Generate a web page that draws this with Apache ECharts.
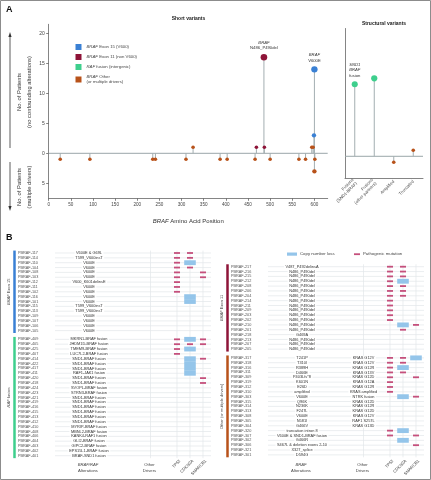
<!DOCTYPE html>
<html>
<head>
<meta charset="utf-8">
<script src="https://cdn.jsdelivr.net/npm/echarts@6.0.0/dist/echarts.min.js"></script>
<style>
html, body { margin: 0; padding: 0; background: #fff; }
#main { width: 431px; height: 480px; }
</style>
</head>
<body>
<div id="main"></div>
<script>
var FONT = 'Liberation Sans, Arial, sans-serif';
var C_V600 = '#3a80d4', C_EX11 = '#8e1438', C_FUS = '#3ecf8d', C_OTH = '#b8521a';
var C_LOSS = '#94c5ea', C_MUT = '#c5507c', C_STEM = '#a3aeb1', C_GRID = '#e3e7e9';

// ---- panel A: short variants, [amino acid position, patients] (negative = multiple drivers)
var v600Points = [[600, 14], [599, 3]];
var exon11Points = [[486, 16], [469, 1], [487, 1]];
var fusionPoints = [];
var otherPoints = [[26, -1], [93, -1], [235, -1], [241, -1], [310, -1], [326, 1], [387, -1], [403, -1],
  [466, -1], [500, -1], [565, -1], [580, -1], [594, 1], [597, 1], [600, -3], [601, -1]];
var xTicks = [0, 50, 100, 150, 200, 250, 300, 350, 400, 450, 500, 550, 600];
var yTicks = [-5, 0, 5, 10, 15, 20];

// ---- panel A: structural variants
var svCategories = ['Fusions\n(SND1-BRAF)', 'Fusions\n(other partners)', 'Amplified', 'Truncated'];
var svCounts = [12, 13, -1, 1];
var svGroup = ['fusion', 'fusion', 'other', 'other'];

// ---- panel B: per patient rows; genes = TP53 / CDKN2A / SMARCB1 (M mutation, L copy number loss)
var exon15Ids = ['PBRAF-117', 'PBRAF-114', 'PBRAF-110', 'PBRAF-104', 'PBRAF-108', 'PBRAF-103', 'PBRAF-112', 'PBRAF-111',
  'PBRAF-102', 'PBRAF-116', 'PBRAF-101', 'PBRAF-115', 'PBRAF-113', 'PBRAF-109', 'PBRAF-107', 'PBRAF-106', 'PBRAF-105'];
var exon15Alts = ['V600E & G69L', 'T599_V600insT', 'V600E', 'V600E', 'V600E', 'V600E', 'V600_K601delinsE', 'V600E',
  'V600E', 'V600E', 'V600E', 'T599_V600insT', 'T599_V600insT', 'V600E', 'V600E', 'V600E', 'V600E'];
var exon15Genes = ['MM-', 'MM-', 'ML-', 'MM-', 'M-M', 'M-M', 'M--', 'M--', 'M--', '-L-', '-L-',
  '---', '---', '---', '---', '---', '---'];

var fusionIds = ['PBRAF-409', 'PBRAF-405', 'PBRAF-425', 'PBRAF-407', 'PBRAF-414', 'PBRAF-422', 'PBRAF-417', 'PBRAF-411',
  'PBRAF-420', 'PBRAF-418', 'PBRAF-424', 'PBRAF-423', 'PBRAF-421', 'PBRAF-419', 'PBRAF-416', 'PBRAF-415', 'PBRAF-413',
  'PBRAF-412', 'PBRAF-410', 'PBRAF-408', 'PBRAF-406', 'PBRAF-404', 'PBRAF-403', 'PBRAF-402', 'PBRAF-401'];
var fusionAlts = ['MKRN1-BRAF fusion', 'JHDM1D-BRAF fusion', 'TMEM9-BRAF fusion', 'LUC7L2-BRAF fusion', 'SND1-BRAF fusion',
  'SND1-BRAF fusion', 'SND1-BRAF fusion', 'RAF1-JAK1 fusion', 'SND1-BRAF fusion', 'SND1-BRAF fusion', 'SVOPL-BRAF fusion',
  'STRN3-BRAF fusion', 'SND1-BRAF fusion', 'SND1-BRAF fusion', 'SND1-BRAF fusion', 'SND1-BRAF fusion', 'SND1-BRAF fusion',
  'SND1-BRAF fusion', 'MYRIP-BRAF fusion', 'MBNL2-BRAF fusion', 'KANK4-RAF1 fusion', 'GLI2-BRAF fusion',
  'GIPC2-BRAF fusion', 'EPS15L1-BRAF fusion', 'BRAF-SND1 fusion'];
var fusionGenes = ['MLM', 'MMM', 'ML-', 'M--', '-LM', '-L-', '-L-', '-L-', '--M', '--M', '---', '---', '---',
  '---', '---', '---', '---', '---', '---', '---', '---', '---', '---', '---', '---'];

var exon11Ids = ['PBRAF-217', 'PBRAF-216', 'PBRAF-215', 'PBRAF-212', 'PBRAF-208', 'PBRAF-206', 'PBRAF-204', 'PBRAF-214',
  'PBRAF-211', 'PBRAF-209', 'PBRAF-203', 'PBRAF-202', 'PBRAF-210', 'PBRAF-201', 'PBRAF-218', 'PBRAF-213', 'PBRAF-207', 'PBRAF-205'];
var exon11Alts = ['V487_P492delinsA', 'N486_P490del', 'N486_P490del', 'N486_P490del', 'N486_P490del', 'N486_P490del',
  'N486_P490del', 'N486_P490del', 'N486_P490del', 'N486_P490del', 'N486_P490del', 'N486_P490del', 'N486_P490del',
  'N486_P490del', 'G469A', 'N486_P490del', 'N486_P490del', 'N486_P490del'];
var exon11Genes = ['MM-', 'MM-', 'MM-', 'ML-', 'MM-', 'MM-', 'MM-', 'M--', 'M--', 'M--', 'M--', 'M--', '-LM', '-M-',
  '---', '---', '---', '---'];

var otherIds = ['PBRAF-317', 'PBRAF-318', 'PBRAF-316', 'PBRAF-311', 'PBRAF-309', 'PBRAF-319', 'PBRAF-312', 'PBRAF-310',
  'PBRAF-303', 'PBRAF-315', 'PBRAF-314', 'PBRAF-313', 'PBRAF-308', 'PBRAF-305', 'PBRAF-304', 'PBRAF-320', 'PBRAF-307',
  'PBRAF-302', 'PBRAF-306', 'PBRAF-321', 'PBRAF-301'];
var otherAlts = ['T241P', 'T310I', 'R389H', 'D466E', 'P403Lfs*8', 'K601N', 'E26D', 'amplified', 'V600E', 'Q96K', 'N236K',
  'F247L', 'V600E', 'N581I', 'G466V', 'truncation intron 8', 'V600E & SND1-BRAF fusion', 'G466R',
  'S467L & deletion exons 2-10', 'X327_splice', 'D594G'];
var otherDrivers = ['KRAS G12V', 'KRAS G12V', 'KRAS G12R', 'KRAS G13V', 'KRAS G12D', 'KRAS G12A', 'KRAS G12R',
  'KRAS amplified', 'NTRK fusion', 'KRAS G12D', 'KRAS G12R', 'KRAS G12D', 'KRAS G12V', 'RAF1 S257L', 'KRAS G13D',
  '', '', '', '', '', ''];
var otherGenes = ['MML', 'MM-', 'ML-', 'MM-', 'M-M', 'M--', 'M--', 'M--', '-LM', '---', '---', '---', '---', '---', '---',
  'ML-', 'M-M', '-L-', '--M', '---', '---'];

// layout of the table columns (x inside each half of panel B)
var COL = { id: 18, alt: 89, other: 150.5, genes: [177, 190, 203], lineStart: 55, lineEnd: 211, bar: 14.5, label: 8.5 };
var ROW_GAP = 0.8;

function buildRows(groups) {
  var rows = [], spans = [], pos = 0;
  groups.forEach(function (g, gi) {
    if (gi > 0) pos += ROW_GAP;
    var start = pos;
    g.ids.forEach(function (id, i) {
      rows.push({ id: id, alt: g.alts[i], other: g.others ? g.others[i] : '', genes: g.genes[i], pos: pos });
      pos += 1;
    });
    spans.push({ name: g.name, color: g.color, start: start, end: pos - 1 });
  });
  return { rows: rows, spans: spans, max: pos - 1 };
}

var left = buildRows([
  { name: '{i|BRAF} Exon 15', color: C_V600, ids: exon15Ids, alts: exon15Alts, genes: exon15Genes },
  { name: '{i|RAF} fusion', color: C_FUS, ids: fusionIds, alts: fusionAlts, genes: fusionGenes }
]);
var right = buildRows([
  { name: '{i|BRAF} Exon 11', color: C_EX11, ids: exon11Ids, alts: exon11Alts, genes: exon11Genes },
  { name: 'Other (or multiple drivers)', color: C_OTH, ids: otherIds, alts: otherAlts, others: otherDrivers, genes: otherGenes }
]);

// italic rich style for gene names in zrender texts
function italic(size, colour) {
  return { i: { fontStyle: 'italic', fontSize: size, fontFamily: FONT, fill: colour, color: colour } };
}

function stemItem(params, api) {
  var top = api.coord([api.value(0), api.value(1)]);
  var base = api.coord([api.value(0), 0]);
  return { type: 'line', shape: { x1: base[0], y1: base[1], x2: top[0], y2: top[1] },
    style: { stroke: C_STEM, lineWidth: 1 } };
}
function baselineItem(params, api) {
  var cs = params.coordSys;
  var y = api.coord([api.value(0), api.value(1)])[1];
  return { type: 'line', shape: { x1: cs.x, y1: y, x2: cs.x + cs.width, y2: y },
    style: { stroke: '#9aa6a9', lineWidth: 1 } };
}
function dotSize(v) { return 2.6 + Math.sqrt(Math.abs(v[1])); }

function rowItem(table) {
  return function (params, api) {
    var r = table.rows[params.dataIndex];
    var y = api.coord([0, r.pos])[1];
    function x(v) { return api.coord([v, r.pos])[0]; }
    var kids = [
      { type: 'line', shape: { x1: x(COL.lineStart), y1: y, x2: x(COL.lineEnd), y2: y }, style: { stroke: C_GRID, lineWidth: 0.7 } },
      { type: 'text', x: x(COL.id), y: y, style: { text: r.id, fill: '#555', fontSize: 3.8, fontFamily: FONT, verticalAlign: 'middle' } },
      { type: 'text', x: x(COL.alt), y: y, style: { text: r.alt, fill: '#333', fontSize: 3.9, fontFamily: FONT,
        align: 'center', verticalAlign: 'middle', backgroundColor: '#fff', padding: [0, 1.5] } }
    ];
    if (r.other) {
      kids.push({ type: 'text', x: x(COL.other), y: y, style: { text: r.other, fill: '#333', fontSize: 3.9, fontFamily: FONT,
        align: 'center', verticalAlign: 'middle', backgroundColor: '#fff', padding: [0, 1.5] } });
    }
    return { type: 'group', children: kids };
  };
}
function vlineItem(table) {
  return function (params, api) {
    var a = api.coord([api.value(0), -0.5]);
    var b = api.coord([api.value(0), table.max + 0.5]);
    return { type: 'line', shape: { x1: a[0], y1: a[1], x2: b[0], y2: b[1] }, style: { stroke: C_GRID, lineWidth: 0.7 } };
  };
}
function spanItem(table) {
  return function (params, api) {
    var s = table.spans[params.dataIndex];
    var a = api.coord([COL.bar, s.start - 0.5]);
    var b = api.coord([COL.bar, s.end + 0.5]);
    var lx = api.coord([COL.label, 0])[0];
    return { type: 'group', children: [
      { type: 'rect', shape: { x: a[0] - 1.25, y: a[1], width: 2.5, height: b[1] - a[1] }, style: { fill: s.color } },
      { type: 'text', x: lx, y: (a[1] + b[1]) / 2, rotation: Math.PI / 2,
        style: { text: s.name, rich: italic(4, '#444'), fill: '#444', fontSize: 4, fontFamily: FONT, align: 'center', verticalAlign: 'middle' } }
    ] };
  };
}
function lossItem(params, api) {
  var c = api.coord([api.value(0), api.value(1)]);
  var h = api.size([0, 1])[1];
  return { type: 'rect', shape: { x: c[0] - 5.8, y: c[1] - h / 2, width: 11.6, height: h }, style: { fill: C_LOSS } };
}
function mutItem(params, api) {
  var c = api.coord([api.value(0), api.value(1)]);
  return { type: 'rect', shape: { x: c[0] - 3, y: c[1] - 0.9, width: 6, height: 1.8 }, style: { fill: C_MUT } };
}
function marks(table, code) {
  var out = [];
  table.rows.forEach(function (r) {
    for (var g = 0; g < 3; g++) if (r.genes.charAt(g) === code) out.push([COL.genes[g], r.pos]);
  });
  return out;
}

function tableSeries(table, axisIndex) {
  return [
    { type: 'custom', xAxisIndex: axisIndex, yAxisIndex: axisIndex, renderItem: vlineItem(table), z: 1,
      data: [COL.other].concat(COL.genes).map(function (v) { return [v, 0]; }) },
    { type: 'custom', xAxisIndex: axisIndex, yAxisIndex: axisIndex, renderItem: rowItem(table), z: 2,
      data: table.rows.map(function (r) { return [0, r.pos]; }) },
    { type: 'custom', xAxisIndex: axisIndex, yAxisIndex: axisIndex, renderItem: spanItem(table), z: 2,
      data: table.spans.map(function (s) { return [COL.bar, s.start]; }) },
    { type: 'custom', name: 'Copy number loss', xAxisIndex: axisIndex, yAxisIndex: axisIndex, renderItem: lossItem, z: 3,
      data: marks(table, 'L') },
    { type: 'custom', name: 'Pathogenic mutation', xAxisIndex: axisIndex, yAxisIndex: axisIndex, renderItem: mutItem, z: 4,
      data: marks(table, 'M') }
  ];
}

var shortAll = v600Points.concat(exon11Points, fusionPoints, otherPoints);

function labelled(pt, text) {
  return { value: pt, label: { show: true, position: 'top', distance: 3, formatter: text, align: 'center',
    fontSize: 4.2, fontFamily: FONT, color: '#333', lineHeight: 5.5,
    rich: { i: { fontStyle: 'italic', fontSize: 4.2, fontFamily: FONT, color: '#333', lineHeight: 5.5 } } } };
}

var legendNames = {
  'BRAF Exon 15 (V600)': '{i|BRAF} Exon 15 (V600)',
  'BRAF Exon 11 (non V600)': '{i|BRAF} Exon 11 (non V600)',
  'RAF fusion (intergenic)': '{i|RAF} fusion (intergenic)',
  'BRAF Other (or multiple drivers)': '{i|BRAF} Other\n(or multiple drivers)'
};

var svFusion = [], svOther = [];
svCounts.forEach(function (v, i) {
  (svGroup[i] === 'fusion' ? svFusion : svOther).push([i, v]);
});
svFusion[0] = labelled(svFusion[0], '{i|SND1}\n{i|BRAF}\nfusion');

var geneLabels = ['TP53', 'CDKN2A', 'SMARCB1'];
var graphics = [
  { type: 'rect', shape: { x: 0.5, y: 0.5, width: 430, height: 479 }, style: { fill: 'none', stroke: '#8c8c8c', lineWidth: 1 } },
  { type: 'text', x: 6, y: 5, style: { text: 'A', font: 'bold 9px ' + FONT, fill: '#111' } },
  { type: 'text', x: 6, y: 233, style: { text: 'B', font: 'bold 9px ' + FONT, fill: '#111' } },
  { type: 'text', x: 188.5, y: 19, style: { text: 'Short variants', font: 'bold 5px ' + FONT, fill: '#222', align: 'center', verticalAlign: 'middle' } },
  { type: 'text', x: 384, y: 24, style: { text: 'Structural variants', font: 'bold 5px ' + FONT, fill: '#222', align: 'center', verticalAlign: 'middle' } },
  { type: 'text', x: 24.3, y: 92, rotation: Math.PI / 2, style: { text: 'No. of Patients\n(no confounding alterations)',
    font: '5.8px ' + FONT, lineHeight: 10, fill: '#333', align: 'center', verticalAlign: 'middle' } },
  { type: 'text', x: 24.3, y: 187, rotation: Math.PI / 2, style: { text: 'No. of Patients\n(multiple drivers)',
    font: '5.8px ' + FONT, lineHeight: 10, fill: '#333', align: 'center', verticalAlign: 'middle' } },
  { type: 'line', shape: { x1: 10, y1: 148, x2: 10, y2: 36 }, style: { stroke: '#333', lineWidth: 0.8 } },
  { type: 'polygon', shape: { points: [[10, 32], [8.4, 37], [11.6, 37]] }, style: { fill: '#333' } },
  { type: 'line', shape: { x1: 10, y1: 162, x2: 10, y2: 207 }, style: { stroke: '#333', lineWidth: 0.8 } },
  { type: 'polygon', shape: { points: [[10, 211], [8.4, 206], [11.6, 206]] }, style: { fill: '#333' } },
  // legend of panel B
  { type: 'rect', shape: { x: 287, y: 252.5, width: 10, height: 3.2 }, style: { fill: C_LOSS } },
  { type: 'text', x: 300, y: 254.2, style: { text: 'Copy number loss', font: '4.3px ' + FONT, fill: '#444', verticalAlign: 'middle' } },
  { type: 'rect', shape: { x: 354, y: 253.3, width: 6, height: 1.8 }, style: { fill: C_MUT } },
  { type: 'text', x: 363, y: 254.2, style: { text: 'Pathogenic mutation', font: '4.3px ' + FONT, fill: '#444', verticalAlign: 'middle' } }
];
[[0, '{i|BRAF/RAF}\nAlterations'], [213, '{i|BRAF}\nAlterations']].forEach(function (h) {
  graphics.push({ type: 'text', x: h[0] + COL.alt - 1, y: 468, style: { text: h[1], rich: italic(4.2, '#444'),
    fontSize: 4.2, fontFamily: FONT, lineHeight: 5.6, fill: '#444', align: 'center', verticalAlign: 'middle' } });
  graphics.push({ type: 'text', x: h[0] + COL.other - 1, y: 468, style: { text: 'Other\nDrivers', fontSize: 4.2, fontFamily: FONT,
    lineHeight: 5.6, fill: '#444', align: 'center', verticalAlign: 'middle' } });
  geneLabels.forEach(function (g, i) {
    graphics.push({ type: 'text', x: h[0] + COL.genes[i] + 1.5, y: 459, rotation: Math.PI / 4,
      style: { text: g, fontSize: 4.2, fontFamily: FONT, fill: '#444', align: 'right', verticalAlign: 'top' } });
  });
});

var hidden = { show: false };
var option = {
  animation: false,
  backgroundColor: '#fff',
  textStyle: { fontFamily: FONT },
  grid: [
    { left: 48.7, top: 24.3, width: 279, height: 174, outerBoundsMode: 'none' },
    { left: 345, top: 28.5, width: 78, height: 149.5, outerBoundsMode: 'none' },
    { left: 0, top: 253 - 2.425, width: 213, height: (left.max + 1) * 4.85, outerBoundsMode: 'none' },
    { left: 213, top: 266.7 - 2.425, width: 218, height: (right.max + 1) * 4.85, outerBoundsMode: 'none' }
  ],
  xAxis: [
    { type: 'value', gridIndex: 0, min: 0, max: 630,
      name: '{i|BRAF} Amino Acid Position', nameLocation: 'middle', nameGap: 20,
      nameTextStyle: { fontSize: 6, color: '#333', fontFamily: FONT, rich: { i: { fontStyle: 'italic', fontSize: 6, fontFamily: FONT, color: '#333' } } },
      axisLine: { onZero: false, lineStyle: { color: '#666', width: 0.8 } },
      axisTick: { length: 2.5, customValues: xTicks, lineStyle: { color: '#666', width: 0.8 } },
      axisLabel: { customValues: xTicks, fontSize: 4.6, margin: 4, color: '#444' },
      splitLine: hidden },
    { type: 'category', gridIndex: 1, data: svCategories,
      axisLine: { onZero: false, lineStyle: { color: '#666', width: 0.8 } },
      axisTick: hidden,
      axisLabel: { interval: 0, rotate: 45, fontSize: 4.3, lineHeight: 5, margin: 3, color: '#444' },
      splitLine: hidden },
    { type: 'value', gridIndex: 2, min: 0, max: 213, show: false },
    { type: 'value', gridIndex: 3, min: 0, max: 218, show: false }
  ],
  yAxis: [
    { type: 'value', gridIndex: 0, min: -7.5, max: 21.5,
      axisLine: { show: true, onZero: false, lineStyle: { color: '#666', width: 0.8 } },
      axisTick: { show: true, length: 2.5, customValues: yTicks, lineStyle: { color: '#666', width: 0.8 } },
      axisLabel: { customValues: yTicks, fontSize: 5, margin: 4, color: '#444', formatter: function (v) { return Math.abs(v); } },
      splitLine: hidden },
    { type: 'value', gridIndex: 1, min: -3.62, max: 21.3,
      axisLine: { show: true, onZero: false, lineStyle: { color: '#666', width: 0.8 } },
      axisTick: hidden, axisLabel: hidden, splitLine: hidden },
    { type: 'value', gridIndex: 2, min: -0.5, max: left.max + 0.5, inverse: true, show: false },
    { type: 'value', gridIndex: 3, min: -0.5, max: right.max + 0.5, inverse: true, show: false }
  ],
  legend: {
    left: 75.5, top: 44, orient: 'vertical', padding: 0, itemWidth: 6, itemHeight: 6, itemGap: 4,
    icon: 'rect', selectedMode: false,
    data: Object.keys(legendNames),
    formatter: function (n) { return legendNames[n]; },
    textStyle: { fontSize: 4.3, fontFamily: FONT, color: '#444', lineHeight: 5.5,
      rich: { i: { fontStyle: 'italic', fontSize: 4.3, fontFamily: FONT, color: '#444', lineHeight: 5.5 } } }
  },
  series: [
    { type: 'custom', xAxisIndex: 0, yAxisIndex: 0, renderItem: baselineItem, data: [[0, 0]], z: 1, silent: true },
    { type: 'custom', xAxisIndex: 0, yAxisIndex: 0, renderItem: stemItem, data: shortAll, z: 2, silent: true },
    { type: 'scatter', name: 'BRAF Exon 15 (V600)', xAxisIndex: 0, yAxisIndex: 0, itemStyle: { color: C_V600, opacity: 1 },
      symbolSize: dotSize, z: 5,
      data: [labelled(v600Points[0], '{i|BRAF}\nV600E')].concat(v600Points.slice(1)) },
    { type: 'scatter', name: 'BRAF Exon 11 (non V600)', xAxisIndex: 0, yAxisIndex: 0, itemStyle: { color: C_EX11, opacity: 1 },
      symbolSize: dotSize, z: 5,
      data: [labelled(exon11Points[0], '{i|BRAF}\nN486_P490del')].concat(exon11Points.slice(1)) },
    { type: 'scatter', name: 'RAF fusion (intergenic)', xAxisIndex: 0, yAxisIndex: 0, itemStyle: { color: C_FUS, opacity: 1 },
      symbolSize: dotSize, z: 5, data: fusionPoints },
    { type: 'scatter', name: 'BRAF Other (or multiple drivers)', xAxisIndex: 0, yAxisIndex: 0, itemStyle: { color: C_OTH, opacity: 1 },
      symbolSize: dotSize, z: 4, data: otherPoints },

    { type: 'custom', xAxisIndex: 1, yAxisIndex: 1, renderItem: baselineItem, data: [[0, 0]], z: 1, silent: true },
    { type: 'custom', xAxisIndex: 1, yAxisIndex: 1, renderItem: stemItem,
      data: svCounts.map(function (v, i) { return [i, v]; }), z: 2, silent: true },
    { type: 'scatter', name: 'RAF fusion (intergenic)', xAxisIndex: 1, yAxisIndex: 1, itemStyle: { color: C_FUS, opacity: 1 },
      symbolSize: dotSize, z: 5, data: svFusion },
    { type: 'scatter', name: 'BRAF Other (or multiple drivers)', xAxisIndex: 1, yAxisIndex: 1, itemStyle: { color: C_OTH, opacity: 1 },
      symbolSize: dotSize, z: 5, data: svOther }
  ].concat(tableSeries(left, 2), tableSeries(right, 3)),
  graphic: graphics
};

var myChart = echarts.init(document.getElementById('main'));
myChart.setOption(option);
</script>
</body>
</html>
